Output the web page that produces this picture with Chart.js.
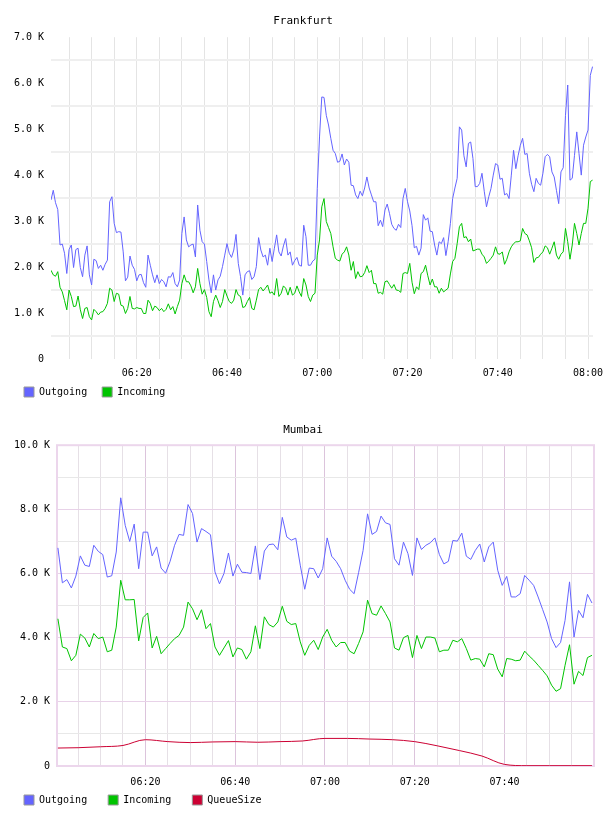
<!DOCTYPE html>
<html>
<head>
<meta charset="utf-8">
<script src="https://cdn.jsdelivr.net/npm/chart.js@4/dist/chart.umd.min.js"></script>
<style>
body{margin:0;background:#fff;}
canvas{display:block;}
</style>
</head>
<body>
<canvas id="fra" width="608" height="408"></canvas>
<canvas id="mum" width="608" height="408"></canvas>
<script>

// values are in thousands, x is minutes after 06:00

// Frankfurt, one sample every 30 s starting 06:01
const fraStart=1;
const fraStep=0.5;
const fraOut=[
3.46,3.67,3.40,3.25,2.48,2.50,2.30,1.86,2.38,2.48,
1.99,2.38,2.41,1.99,1.79,2.26,2.46,1.83,1.61,2.17,
2.14,1.97,2.04,1.93,2.06,2.15,3.42,3.53,2.95,2.75,
2.77,2.76,2.33,1.70,1.78,2.24,2.04,1.95,1.70,1.83,
1.84,1.66,1.56,2.26,2.04,1.83,1.66,1.83,1.64,1.73,
1.68,1.57,1.79,1.78,1.88,1.64,1.57,1.72,2.73,3.09,
2.59,2.44,2.48,2.50,2.22,3.35,2.80,2.55,2.50,2.12,
1.72,1.44,1.83,1.50,1.72,1.80,2.01,2.26,2.51,2.30,
2.21,2.37,2.71,2.08,1.79,1.39,1.83,1.90,1.92,1.73,
1.79,2.01,2.64,2.37,2.22,2.26,2.04,2.41,2.12,2.41,
2.70,2.33,2.24,2.46,2.62,2.26,2.33,2.04,2.14,2.21,
2.04,2.02,2.91,2.66,2.04,2.04,2.13,2.17,3.71,4.83,
5.70,5.69,5.30,5.09,4.80,4.54,4.47,4.28,4.30,4.46,
4.22,4.35,4.28,3.78,3.77,3.57,3.49,3.65,3.55,3.72,
3.96,3.72,3.57,3.42,3.42,2.90,3.02,2.88,3.24,3.37,
3.17,2.93,2.84,2.80,2.93,2.86,3.49,3.71,3.42,3.22,
2.90,2.42,2.45,2.26,2.41,3.14,3.02,3.07,2.78,2.77,
2.48,2.26,2.55,2.51,2.64,2.25,2.55,2.95,3.49,3.72,
3.93,5.05,4.98,4.42,4.18,4.69,4.72,4.36,3.75,3.75,
3.82,4.04,3.65,3.31,3.53,3.71,4.00,4.25,4.22,3.91,
3.93,3.57,3.60,3.49,4.00,4.54,4.14,4.42,4.65,4.80,
4.45,4.47,4.04,3.80,3.64,3.93,3.82,3.78,4.04,4.40,
4.45,4.40,4.07,3.96,3.67,3.38,4.07,4.16,5.30,5.96,
3.89,3.93,4.43,4.94,4.47,4.00,4.65,4.83,4.98,6.17,6.36
];
const fraIn=[
1.93,1.83,1.80,1.90,1.56,1.46,1.27,1.07,1.50,1.36,
1.14,1.15,1.37,1.07,0.88,1.10,1.12,0.92,0.85,1.08,
1.03,0.96,1.02,1.03,1.10,1.21,1.54,1.50,1.25,1.43,
1.41,1.17,1.15,0.99,1.10,1.36,1.10,1.09,1.12,1.10,
1.10,0.99,0.99,1.28,1.21,1.05,1.15,1.12,1.05,1.10,
1.03,1.08,1.20,1.07,1.14,0.98,1.14,1.28,1.64,1.83,
1.68,1.68,1.59,1.44,1.57,1.97,1.64,1.41,1.51,1.34,
1.03,0.92,1.25,1.39,1.27,1.12,1.25,1.51,1.37,1.25,
1.21,1.28,1.51,1.39,1.36,1.12,1.14,1.25,1.34,1.10,
1.07,1.28,1.51,1.56,1.48,1.54,1.61,1.43,1.46,1.39,
1.75,1.36,1.43,1.59,1.54,1.39,1.56,1.39,1.43,1.59,
1.46,1.36,1.75,1.61,1.36,1.25,1.39,1.43,2.26,2.59,
3.31,3.49,2.99,2.86,2.73,2.44,2.19,2.15,2.13,2.28,
2.33,2.44,2.26,1.93,2.12,1.75,1.90,1.79,1.80,1.88,
2.03,1.88,1.93,1.64,1.64,1.43,1.45,1.41,1.68,1.70,
1.62,1.54,1.62,1.50,1.49,1.45,1.86,1.88,1.86,2.08,
1.67,1.42,1.57,1.51,1.86,1.90,2.04,1.81,1.61,1.74,
1.57,1.57,1.43,1.54,1.46,1.50,1.54,1.85,2.12,2.19,
2.51,2.88,2.95,2.64,2.66,2.55,2.61,2.35,2.37,2.39,
2.39,2.28,2.22,2.08,2.13,2.19,2.26,2.44,2.29,2.28,
2.33,2.06,2.17,2.33,2.44,2.51,2.55,2.55,2.57,2.84,
2.73,2.70,2.57,2.42,2.10,2.20,2.21,2.28,2.33,2.46,
2.42,2.28,2.41,2.55,2.26,2.17,2.28,2.33,2.84,2.55,
2.17,2.48,2.95,2.73,2.48,2.73,2.95,2.95,3.28,3.86,3.89
];

// Mumbai, one sample a minute starting 06:00:30
const mumStart=0.5;
const mumStep=1;
const mumOut=[
6.80,5.71,5.81,5.55,5.92,6.55,6.26,6.22,6.88,6.69,
6.59,5.89,5.93,6.67,8.36,7.50,7.00,7.54,6.15,7.29,
7.29,6.55,6.83,6.17,6.01,6.38,6.88,7.22,7.19,8.15,
7.87,6.98,7.40,7.31,7.21,6.05,5.68,6.00,6.64,5.92,
6.29,6.04,6.03,6.00,6.86,5.81,6.70,6.90,6.92,6.74,
7.75,7.14,7.04,7.10,6.26,5.51,6.17,6.15,5.86,6.15,
7.11,6.54,6.38,6.15,5.79,5.51,5.37,6.03,6.72,7.86,
7.22,7.31,7.79,7.58,7.53,6.46,6.26,6.98,6.62,5.94,
7.11,6.75,6.88,6.96,7.11,6.59,6.30,6.38,7.03,7.01,
7.26,6.54,6.44,6.72,6.92,6.36,6.83,6.98,6.10,5.63,
5.91,5.27,5.27,5.37,5.94,5.79,5.63,5.27,4.88,4.49,
3.97,3.69,3.85,4.54,5.74,4.02,4.85,4.62,5.35,5.08
];
const mumIn=[
4.59,3.71,3.66,3.28,3.45,4.11,3.99,3.71,4.13,3.97,
4.02,3.56,3.61,4.33,5.79,5.18,5.18,5.19,3.90,4.63,
4.77,3.68,4.04,3.50,3.66,3.82,3.97,4.07,4.33,5.11,
4.90,4.56,4.87,4.28,4.44,3.71,3.45,3.68,3.91,3.40,
3.68,3.63,3.33,3.56,4.37,3.66,4.65,4.41,4.33,4.49,
4.98,4.51,4.41,4.44,3.87,3.45,3.76,3.92,3.63,4.02,
4.26,3.92,3.71,3.85,3.85,3.58,3.50,3.82,4.18,5.17,
4.75,4.70,4.99,4.75,4.49,3.68,3.61,4.00,4.07,3.38,
4.07,3.66,4.02,4.02,3.99,3.56,3.61,3.61,3.92,3.87,
3.97,3.66,3.30,3.35,3.33,3.09,3.50,3.47,3.02,2.78,
3.35,3.33,3.28,3.30,3.58,3.43,3.30,3.14,2.98,2.81,
2.52,2.33,2.41,3.14,3.78,2.55,2.95,2.82,3.38,3.45
];
const queueTimes=[0.5,5,10,15,20,25,30,35,40,45,50,55,60,65,70,75,80,85,90,95,100,105,110,115,119.5];
const queueSize=[0.56,0.57,0.60,0.64,0.82,0.76,0.73,0.75,0.76,0.74,0.76,0.78,0.86,0.86,0.84,0.82,0.76,0.63,0.48,0.31,0.05,0.01,0.01,0.01,0.01];


const MONO="'DejaVu Sans Mono', monospace";
const BLUE="#6464ff";
const GREEN="#00c400";
const RED="#cc0033";

Chart.defaults.font.family=MONO;
Chart.defaults.color="#000";

function series(start,step,values){
return values.map((v,i)=>({x:start+i*step,y:v}));
}

function hhmm(m){
let h=6+Math.floor(m/60);
let mm=m%60;
return (h<10?"0":"")+h+":"+(mm<10?"0":"")+mm;
}

function kLabel(v){
if(v===0) return "0";
return v.toFixed(1)+" K";
}

function legendLabels(chart){
return chart.data.datasets.map((ds,i)=>({
text:ds.label,
fillStyle:ds.borderColor,
strokeStyle:"#999",
lineWidth:1,
fontColor:"#000",
hidden:false,
datasetIndex:i
}));
}

// legend box starts further left than the layout padding would put it
const legendLeft={
id:"legendLeft",
afterLayout(chart,args,opts){
if(opts.x!==undefined) chart.legend.left=opts.x;
}
};

const plotBorder={
id:"plotBorder",
beforeDatasetsDraw(chart,args,opts){
if(!opts.color) return;
let a=chart.chartArea;
let ctx=chart.ctx;
ctx.save();
ctx.strokeStyle=opts.color;
ctx.lineWidth=opts.width;
ctx.strokeRect(a.left,a.top,a.right-a.left,a.bottom-a.top);
ctx.restore();
}
};

// x labels sit in the gap above the legend; mirror keeps them from being clipped
// to the (thin) axis box, the negative padding pushes them back below the plot
function timeTicks(pad){
return {stepSize:5,includeBounds:false,autoSkip:false,maxRotation:0,mirror:true,padding:pad,font:{size:10},
callback:v=>v%20===0?hhmm(v):""};
}


new Chart(document.getElementById("fra"),{
type:"line",
plugins:[legendLeft],
data:{
datasets:[
{label:"Outgoing",data:series(fraStart,fraStep,fraOut),borderColor:BLUE,backgroundColor:BLUE},
{label:"Incoming",data:series(fraStart,fraStep,fraIn),borderColor:GREEN,backgroundColor:GREEN}
]
},
options:{
responsive:false,
animation:false,
layout:{padding:{left:13,right:15,top:0,bottom:1}},
elements:{point:{radius:0},line:{borderWidth:1,tension:0}},
plugins:{
title:{display:true,text:"Frankfurt",color:"#000",font:{size:11,weight:"normal"},padding:{top:15,bottom:9}},
legend:{position:"bottom",align:"start",labels:{boxWidth:10,boxHeight:10,padding:15,font:{size:10},generateLabels:legendLabels}},
legendLeft:{x:9},
tooltip:{enabled:false}
},
scales:{
x:{
type:"linear",min:1,max:121.1,
border:{display:false},
grid:{drawTicks:false,lineWidth:1,color:c=>c.tick.value%5===0?"#e4e4e4":"transparent"},
ticks:timeTicks(-20),
afterFit:s=>{s.height=13;}
},
y:{
min:0,max:7,
border:{display:false},
grid:{drawTicks:false,lineWidth:2,color:c=>Math.round(c.tick.value*2)%2===1?"#efefef":"transparent"},
ticks:{stepSize:0.5,autoSkip:false,padding:7,font:{size:10},
callback:v=>Number.isInteger(v)?kLabel(v):""},
afterFit:s=>{s.width=38;}
}
}
}
});


new Chart(document.getElementById("mum"),{
type:"line",
plugins:[legendLeft,plotBorder],
data:{
datasets:[
{label:"Outgoing",data:series(mumStart,mumStep,mumOut),borderColor:BLUE,backgroundColor:BLUE},
{label:"Incoming",data:series(mumStart,mumStep,mumIn),borderColor:GREEN,backgroundColor:GREEN},
{label:"QueueSize",data:queueTimes.map((t,i)=>({x:t,y:queueSize[i]})),borderColor:RED,backgroundColor:RED,cubicInterpolationMode:"monotone"}
]
},
options:{
responsive:false,
animation:false,
layout:{padding:{left:12,right:14,top:0,bottom:1}},
elements:{point:{radius:0},line:{borderWidth:1,tension:0}},
plugins:{
title:{display:true,text:"Mumbai",color:"#000",font:{size:11,weight:"normal"},padding:{top:16,bottom:8}},
legend:{position:"bottom",align:"start",labels:{boxWidth:10,boxHeight:10,padding:21,font:{size:10},generateLabels:legendLabels}},
legendLeft:{x:3},
plotBorder:{color:"#ecd6ec",width:2},
tooltip:{enabled:false}
},
scales:{
x:{
type:"linear",min:0.3,max:119.95,
border:{display:false},
grid:{drawTicks:false,lineWidth:1,color:c=>{
let v=c.tick.value;
if(v%20===0) return "#dcc4dc";
if(v%5===0) return "#e6e0e6";
return "transparent";
}},
ticks:timeTicks(-22),
afterFit:s=>{s.height=8;}
},
y:{
min:0,max:10,
border:{display:false},
grid:{drawTicks:false,lineWidth:1,color:c=>c.tick.value%2===0?"#e8d2e8":"#e8e8e8"},
ticks:{stepSize:1,autoSkip:false,padding:7,font:{size:10},
callback:v=>v%2===0?kLabel(v):""},
afterFit:s=>{s.width=45;}
}
}
}
});

</script>
</body>
</html>
